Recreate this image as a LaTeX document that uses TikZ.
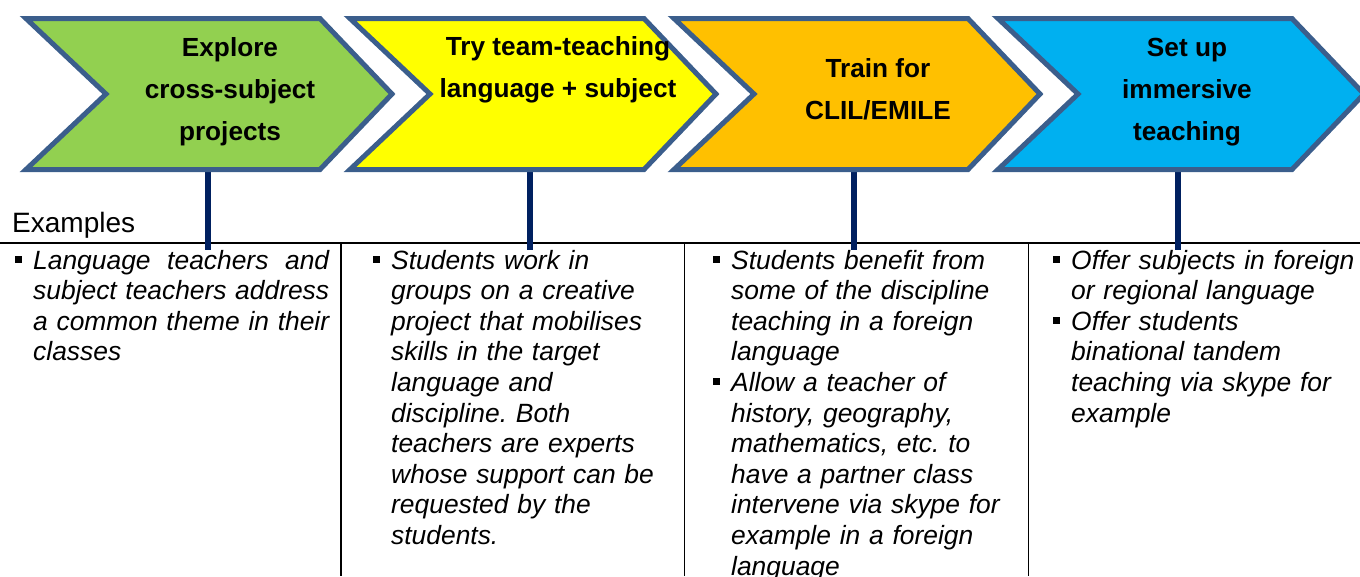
\documentclass[tikz,border=0pt]{standalone}
\usepackage{fontspec}
\setmainfont{Liberation Sans}
\usepackage{tikz}
\usetikzlibrary{calc}
\definecolor{chevgreen}{RGB}{146,208,80}
\definecolor{chevyellow}{RGB}{255,255,0}
\definecolor{chevorange}{RGB}{255,192,0}
\definecolor{chevblue}{RGB}{0,176,240}
\definecolor{chevline}{RGB}{59,94,140}
\definecolor{stemnavy}{RGB}{0,32,96}
\newcommand{\sqbullet}{\leavevmode\llap{\rule[6pt]{7pt}{7pt}\hspace{11pt}}}
\frenchspacing

\begin{document}
\begin{tikzpicture}[x=1pt, y=-1pt,
  chevron/.style={draw=chevline, line width=5pt, line join=miter},
  title/.style={align=center, inner sep=0, font=\bfseries\fontsize{26.2}{42}\selectfont},
  cell/.style={anchor=base west, inner sep=0, text width=285pt, align=left, font=\itshape\fontsize{26.4}{30.6}\selectfont},
  tablerule/.style={draw=black, line width=1.8pt},
  stem/.style={draw=stemnavy, line width=5.5pt}]
\useasboundingbox (0,0) rectangle (1360,576);
\clip (0,0) rectangle (1360,576);

% table
\draw[tablerule] (0,243) -- (1360,243);
\draw[tablerule] (341,243) -- (341,576);
\draw[tablerule] (684.5,243) -- (684.5,576);
\draw[tablerule] (1028.5,243) -- (1028.5,576);

% stems below the steps
\foreach \sx [count=\i] in {208,530,854,1178} {
  \coordinate (foot\i) at (\sx,171);
  \coordinate (rest\i) at (\sx,250);
  \draw[stem] (foot\i) -- (rest\i);
}

% steps
\foreach \xo/\col in {26/chevgreen, 350/chevyellow, 674/chevorange, 998/chevblue}
  \draw[chevron, fill=\col] (\xo,18.5) -- ++(294,0) -- ++(72,75.5) -- ++(-72,75.5) -- ++(-294,0) -- ++(80,-75.5) -- cycle;

\node[title] (explore) at (230,92) {Explore\\cross-subject\\projects};
\node[title] (teamteach) at (558,70) {Try team-teaching\\language + subject};
\node[title] (clil) at (878,89) {Train for\\CLIL/EMILE};
\node[title] (immersive) at (1187,92) {Set up\\immersive\\teaching};

\node[anchor=base west, inner sep=0, font=\fontsize{28}{30}\selectfont] (examples) at (12,232) {Examples};

% example cells
\node[cell, text width=296pt, align=justify] (cellexplore) at (33,269)
  {\sqbullet Language teachers and\linebreak subject teachers address\linebreak a common theme in their\linebreak classes};
\node[cell] (cellteam) at (391,269)
  {\sqbullet Students work in\\groups on a creative\\project that mobilises\\skills in the target\\language and\\discipline. Both\\teachers are experts\\whose support can be\\requested by the\\students.};
\node[cell] (cellclil) at (731,269)
  {\sqbullet Students benefit from\\some of the discipline\\teaching in a foreign\\language\\\sqbullet Allow a teacher of\\history, geography,\\mathematics, etc. to\\have a partner class\\intervene via skype for\\example in a foreign\\language};
\node[cell] (cellimmersive) at (1071,269)
  {\sqbullet Offer subjects in foreign\\or regional language\\\sqbullet Offer students\\binational tandem\\teaching via skype for\\example};
\end{tikzpicture}
\end{document}
